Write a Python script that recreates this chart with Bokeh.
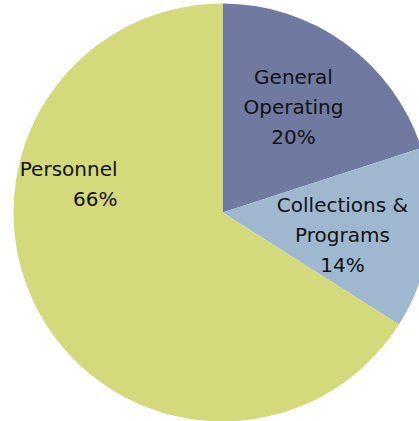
import math
from bokeh.plotting import figure
from bokeh.models import Range1d, ColumnDataSource
from bokeh.core.properties import value
from bokeh.embed import file_html
from bokeh.resources import INLINE

# Data (clockwise from 12 o'clock)
categories = ["General Operating", "Collections & Programs", "Personnel"]
shares = [20, 14, 66]
colors = ["#70799F", "#A0B8CF", "#D4DA7C"]

# label lines per category
label_lines = [["General", "Operating", "20%"],
               ["Collections &", "Programs", "14%"],
               ["Personnel", "66%"]]

total = sum(shares)
starts, ends = [], []
a = math.pi / 2
for s in shares:
    starts.append(a)
    a -= s / total * 2 * math.pi
    ends.append(a)

src = ColumnDataSource(dict(cat=categories, start=starts, end=ends, color=colors))

W, H = 419, 421
p = figure(width=W, height=H, output_backend="svg", toolbar_location=None,
           x_range=Range1d(-222, 197), y_range=Range1d(-209, 212),
           min_border=0, outline_line_color=None)
p.axis.visible = False
p.grid.visible = False
p.background_fill_color = "white"
p.border_fill_color = "white"

R = 209
p.wedge(x=0, y=0, radius=R, start_angle="start", end_angle="end",
        direction="clock", color="color", line_color=None, source=src)

# label layout (pixel offsets from pie centre): x anchor, first line y, align
label_layout = [(71, 136, "center"), (120, 8, "center"), (-105, 44, "right")]
line_gap = 30
tx, ty, tt, ta = [], [], [], []
for lines, (lx, ly, al) in zip(label_lines, label_layout):
    for i, t in enumerate(lines):
        tx.append(lx)
        ty.append(ly - i * line_gap)
        tt.append(t)
        ta.append(al)

for al in ["center", "right"]:
    idx = [i for i in range(len(tt)) if ta[i] == al]
    p.text(x=[tx[i] for i in idx], y=[ty[i] for i in idx], text=[tt[i] for i in idx],
           text_align=al, text_baseline="middle", text_font=value("DejaVu Sans"),
           text_font_size="20px", text_color="#111111")

open("out.html", "w").write(file_html(p, INLINE))
